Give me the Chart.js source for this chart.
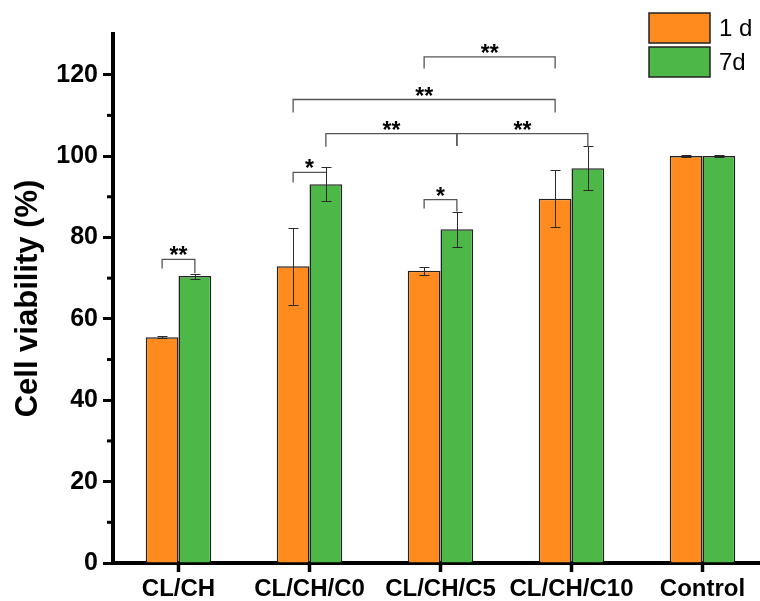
<!DOCTYPE html>
<html>
<head>
<meta charset="utf-8">
<script src="https://cdn.jsdelivr.net/npm/chart.js@4.4.1/dist/chart.umd.min.js"></script>
<style>
  html, body { margin: 0; padding: 0; background: #fff; overflow: hidden; }
  #graficaViabilidad { display: block; }
</style>
</head>
<body>
<canvas id="graficaViabilidad" width="780" height="601"></canvas>
<script>
// Datos
const categorias = ["CL/CH", "CL/CH/C0", "CL/CH/C5", "CL/CH/C10", "Control"];
const serieNombres = ["1 d", "7d"];
const viabilidad1d = [55.5, 72.9, 71.8, 89.5, 100.0];
const viabilidad7d = [70.5, 93.1, 82.0, 97.0, 100.0];
const error1d = [0.2, 9.5, 1.0, 7.0, 0.2];
const error7d = [0.6, 4.2, 4.3, 5.4, 0.2];
const ticksY = [0, 20, 40, 60, 80, 100, 120];
const ticksMenoresY = [10, 30, 50, 70, 90, 110];

// Corchetes de significancia: [categoria, serie] inicio y fin, nivel y patas (en %)
const corcheteDesde = [[0, 0], [1, 0], [2, 0], [2, 0], [1, 0], [1, 1], [2, 1]];
const corcheteHasta = [[0, 1], [1, 1], [2, 1], [3, 0], [3, 0], [2, 1], [3, 1]];
const corcheteNivel = [74.6, 96.0, 89.3, 124.4, 113.9, 105.5, 105.5];
const corchetePatas = [[72.4, 71.2], [93.5, 96.0], [87.1, 86.4], [121.5, 121.5], [110.7, 110.7], [102.3, 102.5], [102.5, 102.3]];
const corcheteTexto = ["**", "*", "*", "**", "**", "**", "**"];

const FUENTE = "'Liberation Sans', Arial, sans-serif";
const errores = [error1d, error7d];

const pluginAnotaciones = {
    id: "anotaciones",
    afterDatasetsDraw(chart) {
        const ctx = chart.ctx;
        const y = chart.scales.y;

        // barras de error
        ctx.save();
        ctx.strokeStyle = "#2a2a2a";
        ctx.lineWidth = 1;
        chart.data.datasets.forEach((ds, i) => {
            const meta = chart.getDatasetMeta(i);
            meta.data.forEach((barra, j) => {
                const v = ds.data[j];
                const e = errores[i][j];
                const yArriba = Math.round(y.getPixelForValue(v + e)) + 0.5;
                const yAbajo = Math.round(y.getPixelForValue(v - e)) + 0.5;
                const x = Math.round(barra.x) + 0.5;
                ctx.beginPath();
                ctx.moveTo(x, yArriba);
                ctx.lineTo(x, yAbajo);
                ctx.moveTo(x - 5, yArriba);
                ctx.lineTo(x + 5, yArriba);
                ctx.moveTo(x - 5, yAbajo);
                ctx.lineTo(x + 5, yAbajo);
                ctx.stroke();
            });
        });
        ctx.restore();

        // corchetes de significancia
        ctx.save();
        ctx.strokeStyle = "#555";
        ctx.lineWidth = 1.3;
        ctx.fillStyle = "#000";
        ctx.font = "bold 23px " + FUENTE;
        ctx.textAlign = "center";
        ctx.textBaseline = "alphabetic";
        corcheteDesde.forEach((desde, k) => {
            const hasta = corcheteHasta[k];
            const x1 = chart.getDatasetMeta(desde[1]).data[desde[0]].x;
            const x2 = chart.getDatasetMeta(hasta[1]).data[hasta[0]].x;
            const yn = y.getPixelForValue(corcheteNivel[k]);
            const y1 = y.getPixelForValue(corchetePatas[k][0]);
            const y2 = y.getPixelForValue(corchetePatas[k][1]);
            ctx.beginPath();
            ctx.moveTo(x1, y1);
            ctx.lineTo(x1, yn);
            ctx.lineTo(x2, yn);
            ctx.lineTo(x2, y2);
            ctx.stroke();
            ctx.fillText(corcheteTexto[k], (x1 + x2) / 2, yn + 4);
        });
        ctx.restore();
    },
    afterDraw(chart) {
        const ctx = chart.ctx;
        const y = chart.scales.y;
        const left = y.right;

        // ticks menores del eje Y
        ctx.save();
        ctx.strokeStyle = "#000";
        ctx.lineWidth = 3;
        ticksMenoresY.forEach(v => {
            const py = y.getPixelForValue(v);
            ctx.beginPath();
            ctx.moveTo(left - 6, py);
            ctx.lineTo(left, py);
            ctx.stroke();
        });
        ctx.restore();

        // leyenda
        ctx.save();
        ctx.font = "24px " + FUENTE;
        ctx.textBaseline = "middle";
        ctx.textAlign = "left";
        chart.data.datasets.forEach((ds, i) => {
            const top = 13 + i * 34;
            ctx.fillStyle = ds.backgroundColor;
            ctx.fillRect(649, top, 61, 30);
            ctx.strokeStyle = "#222";
            ctx.lineWidth = 1.5;
            ctx.strokeRect(649, top, 61, 30);
            ctx.fillStyle = "#000";
            ctx.fillText(ds.label, 719, top + 16);
        });
        ctx.restore();
    }
};

const ctx = document.getElementById("graficaViabilidad").getContext("2d");

new Chart(ctx, {
    type: "bar",
    data: {
        labels: categorias,
        datasets: [
            {
                label: serieNombres[0],
                data: viabilidad1d,
                backgroundColor: "#FF8A1D",
                borderColor: "#222",
                borderWidth: 1.5,
                categoryPercentage: 0.5,
                barPercentage: 1.0,
            },
            {
                label: serieNombres[1],
                data: viabilidad7d,
                backgroundColor: "#4DB748",
                borderColor: "#222",
                borderWidth: 1.5,
                categoryPercentage: 0.5,
                barPercentage: 1.0,
            },
        ],
    },
    options: {
        responsive: false,
        animation: false,
        layout: { padding: { top: 34, right: 12, left: 0, bottom: 0 } },
        plugins: {
            legend: { display: false },
            tooltip: { enabled: false },
        },
        scales: {
            x: {
                afterFit: scale => { scale.height = 38; },
                border: { display: true, color: "#000", width: 4 },
                grid: {
                    display: true,
                    drawOnChartArea: false,
                    offset: false,
                    tickLength: 9,
                    tickWidth: 3.5,
                    tickColor: "#000",
                },
                ticks: {
                    autoSkip: false,
                    maxRotation: 0,
                    padding: 3,
                    color: "#000",
                    font: { family: FUENTE, size: 24, weight: "bold" },
                },
            },
            y: {
                min: 0,
                max: 130,
                afterFit: scale => { scale.width = 113; },
                border: { display: true, color: "#000", width: 4 },
                grid: {
                    display: true,
                    drawOnChartArea: false,
                    tickLength: 10,
                    tickWidth: 3,
                    tickColor: c => ticksY.includes(c.tick.value) ? "#000" : "rgba(0,0,0,0)",
                },
                ticks: {
                    stepSize: 10,
                    maxTicksLimit: 20,
                    padding: 5,
                    color: "#000",
                    font: { family: FUENTE, size: 25, weight: "bold" },
                    callback: v => ticksY.includes(v) ? v : "",
                },
                title: {
                    display: true,
                    text: "Cell viability (%)",
                    color: "#000",
                    padding: { top: 10, bottom: 0 },
                    font: { family: FUENTE, size: 31, weight: "bold" },
                },
            },
        },
    },
    plugins: [pluginAnotaciones],
});
</script>
</body>
</html>
